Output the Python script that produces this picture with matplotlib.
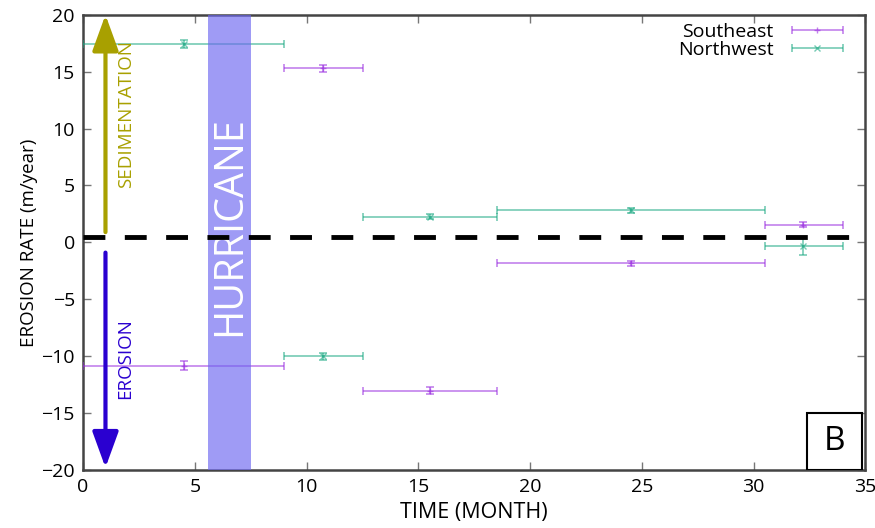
import matplotlib
matplotlib.use("Agg")
import matplotlib.pyplot as plt
from matplotlib.patches import Rectangle
from matplotlib.legend_handler import HandlerErrorbar
import numpy as np

plt.rcParams["font.family"] = ["Open Sans", "DejaVu Sans"]

# sampling intervals (months) and erosion rates (m/year)
t_start = [0.0, 9.0, 12.5, 18.5, 30.5]
t_end = [9.0, 12.5, 18.5, 30.5, 34.0]
t_mid = [4.5, 10.75, 15.5, 24.5, 32.2]

southeast = [-10.85, 15.3, -13.05, -1.85, 1.55]
southeast_err = [0.4, 0.3, 0.3, 0.2, 0.2]
northwest = [17.45, -10.0, 2.25, 2.8, -0.35]
northwest_err = [0.35, 0.3, 0.2, 0.2, 0.8]

hurricane_span = (5.6, 7.5)
reference_level = 0.45

SE_COLOR = "#9a2ee0"
NW_COLOR = "#1aa882"

fig = plt.figure(figsize=(8.75, 5.28), dpi=100)
ax = fig.add_axes([0.095, 0.11, 0.894, 0.862])

xlo = np.array(t_mid) - np.array(t_start)
xhi = np.array(t_end) - np.array(t_mid)

style = dict(alpha=0.6, ms=5, lw=1.2, capsize=3, capthick=1.2, zorder=3)
ax.errorbar(t_mid, southeast, xerr=[xlo, xhi], yerr=southeast_err,
            fmt="+", color=SE_COLOR, **style)
ax.errorbar(t_mid, northwest, xerr=[xlo, xhi], yerr=northwest_err,
            fmt="x", color=NW_COLOR, **style)

# legend keys: horizontal bar only
se_key = ax.errorbar([np.nan], [np.nan], xerr=[[1], [1]], fmt="+",
                     color=SE_COLOR, label="Southeast", **style)
nw_key = ax.errorbar([np.nan], [np.nan], xerr=[[1], [1]], fmt="x",
                     color=NW_COLOR, label="Northwest", **style)

# hurricane band
ax.axvspan(*hurricane_span, color="#6c66f0", alpha=0.65, lw=0, zorder=4)
ax.text(sum(hurricane_span) / 2, 1.4, "HURRICANE", rotation=90, color="white",
        fontsize=28.5, ha="center", va="center", zorder=5)

ax.axhline(reference_level, color="black", lw=3.5, dashes=(4.5, 4), zorder=6)

# direction arrows
ax.annotate("", xy=(1, 20), xytext=(1, 0.9),
            arrowprops=dict(arrowstyle="-|>,head_length=1.1,head_width=0.4",
                            mutation_scale=20, lw=3, color="#a8a000",
                            shrinkA=0, shrinkB=0), zorder=5)
ax.annotate("", xy=(1, -19.8), xytext=(1, -0.9),
            arrowprops=dict(arrowstyle="-|>,head_length=1.1,head_width=0.4",
                            mutation_scale=20, lw=3, color="#2a00d0",
                            shrinkA=0, shrinkB=0), zorder=5)
ax.text(1.9, 11.3, "SEDIMENTATION", rotation=90, color="#a8a000",
        fontsize=13.5, ha="center", va="center")
ax.text(1.9, -10.2, "EROSION", rotation=90, color="#2a00d0",
        fontsize=13.5, ha="center", va="center")

# panel tag
ax.add_patch(Rectangle((32.4, -20), 2.45, 5.0, facecolor="white",
                       edgecolor="black", lw=1.5, zorder=7))
ax.text(33.62, -17.5, "B", fontsize=24, ha="center", va="center", zorder=8)

ax.set_xlim(0, 35)
ax.set_ylim(-20, 20)
ax.set_xticks(np.arange(0, 36, 5))
ax.set_yticks(np.arange(-20, 21, 5))
ax.tick_params(direction="in", top=True, right=True, length=6, width=1,
               color="#777777", labelsize=14, pad=6)
for s in ax.spines.values():
    s.set_color("#444444")
    s.set_linewidth(1.8)

ax.set_xlabel("TIME (MONTH)", fontsize=15.5, labelpad=4)
ax.set_ylabel("EROSION RATE (m/year)", fontsize=13.5, labelpad=2)

ax.legend(handles=[se_key, nw_key], loc="upper right",
          bbox_to_anchor=(0.987, 1.008), frameon=False,
          markerfirst=False, fontsize=14, handlelength=2.7, labelspacing=0.0,
          borderaxespad=0.3, handletextpad=0.9, borderpad=0.3,
          handler_map={type(se_key): HandlerErrorbar(xerr_size=1.3)})

fig.savefig("out.png", dpi=100)
